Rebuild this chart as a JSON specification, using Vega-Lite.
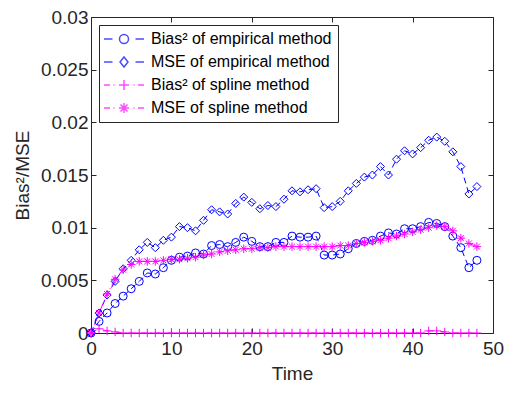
{
  "$schema": "https://vega.github.io/schema/vega-lite/v6.json",
  "width": 402,
  "height": 316,
  "autosize": "none",
  "padding": {"left": 91, "top": 17, "right": 14, "bottom": 62},
  "background": "white",
  "config": {
    "view": {"stroke": "#262626", "strokeWidth": 1},
    "font": "Liberation Sans",
    "scale": {"continuousPadding": 0},
    "axis": {
      "grid": false,
      "domain": false,
      "labelFlush": false,
      "tickColor": "#262626",
      "tickSize": -5,
      "labelColor": "#262626",
      "titleColor": "#262626",
      "labelFont": "Liberation Sans",
      "titleFont": "Liberation Sans",
      "labelFontSize": 19,
      "titleFontSize": 19,
      "titleFontWeight": "normal"
    },
    "legend": {
      "orient": "top-left",
      "offset": 8,
      "padding": 6,
      "strokeColor": "#262626",
      "fillColor": "white",
      "rowPadding": 7,
      "labelFont": "Liberation Sans",
      "labelFontSize": 16,
      "labelColor": "black",
      "labelLimit": 0,
      "labelOffset": 19,
      "symbolOffset": 11
    }
  },
  "data": {
    "values": [
      {"t": 0, "Bias² of empirical method": 0, "MSE of empirical method": 0, "Bias² of spline method": 0, "MSE of spline method": 0},
      {"t": 1, "Bias² of empirical method": 0.0011, "MSE of empirical method": 0.0019, "Bias² of spline method": 0.0004, "MSE of spline method": 0.0019},
      {"t": 2, "Bias² of empirical method": 0.0019, "MSE of empirical method": 0.0036, "Bias² of spline method": 0.0002, "MSE of spline method": 0.0037},
      {"t": 3, "Bias² of empirical method": 0.0028, "MSE of empirical method": 0.0049, "Bias² of spline method": 0.0001, "MSE of spline method": 0.0051},
      {"t": 4, "Bias² of empirical method": 0.0035, "MSE of empirical method": 0.0061, "Bias² of spline method": 0, "MSE of spline method": 0.0060},
      {"t": 5, "Bias² of empirical method": 0.0042, "MSE of empirical method": 0.0069, "Bias² of spline method": 0, "MSE of spline method": 0.0065},
      {"t": 6, "Bias² of empirical method": 0.0049, "MSE of empirical method": 0.0079, "Bias² of spline method": 0, "MSE of spline method": 0.0068},
      {"t": 7, "Bias² of empirical method": 0.0057, "MSE of empirical method": 0.0086, "Bias² of spline method": 0, "MSE of spline method": 0.0068},
      {"t": 8, "Bias² of empirical method": 0.0056, "MSE of empirical method": 0.0081, "Bias² of spline method": 0, "MSE of spline method": 0.0068},
      {"t": 9, "Bias² of empirical method": 0.0062, "MSE of empirical method": 0.0088, "Bias² of spline method": 0, "MSE of spline method": 0.0069},
      {"t": 10, "Bias² of empirical method": 0.0069, "MSE of empirical method": 0.0091, "Bias² of spline method": 0, "MSE of spline method": 0.0070},
      {"t": 11, "Bias² of empirical method": 0.0072, "MSE of empirical method": 0.0101, "Bias² of spline method": 0, "MSE of spline method": 0.0070},
      {"t": 12, "Bias² of empirical method": 0.0073, "MSE of empirical method": 0.0100, "Bias² of spline method": 0, "MSE of spline method": 0.0071},
      {"t": 13, "Bias² of empirical method": 0.0076, "MSE of empirical method": 0.0097, "Bias² of spline method": 0, "MSE of spline method": 0.0072},
      {"t": 14, "Bias² of empirical method": 0.0075, "MSE of empirical method": 0.0107, "Bias² of spline method": 0, "MSE of spline method": 0.0074},
      {"t": 15, "Bias² of empirical method": 0.0083, "MSE of empirical method": 0.0117, "Bias² of spline method": 0, "MSE of spline method": 0.0075},
      {"t": 16, "Bias² of empirical method": 0.0084, "MSE of empirical method": 0.0115, "Bias² of spline method": 0, "MSE of spline method": 0.0077},
      {"t": 17, "Bias² of empirical method": 0.0082, "MSE of empirical method": 0.0113, "Bias² of spline method": 0, "MSE of spline method": 0.0078},
      {"t": 18, "Bias² of empirical method": 0.0086, "MSE of empirical method": 0.0123, "Bias² of spline method": 0, "MSE of spline method": 0.0079},
      {"t": 19, "Bias² of empirical method": 0.0091, "MSE of empirical method": 0.0129, "Bias² of spline method": 0, "MSE of spline method": 0.0080},
      {"t": 20, "Bias² of empirical method": 0.0087, "MSE of empirical method": 0.0124, "Bias² of spline method": 0, "MSE of spline method": 0.0080},
      {"t": 21, "Bias² of empirical method": 0.0082, "MSE of empirical method": 0.0118, "Bias² of spline method": 0, "MSE of spline method": 0.0081},
      {"t": 22, "Bias² of empirical method": 0.0082, "MSE of empirical method": 0.0121, "Bias² of spline method": 0, "MSE of spline method": 0.0081},
      {"t": 23, "Bias² of empirical method": 0.0086, "MSE of empirical method": 0.0120, "Bias² of spline method": 0, "MSE of spline method": 0.0082},
      {"t": 24, "Bias² of empirical method": 0.0086, "MSE of empirical method": 0.0127, "Bias² of spline method": 0, "MSE of spline method": 0.0082},
      {"t": 25, "Bias² of empirical method": 0.0092, "MSE of empirical method": 0.0135, "Bias² of spline method": 0, "MSE of spline method": 0.0082},
      {"t": 26, "Bias² of empirical method": 0.0091, "MSE of empirical method": 0.0134, "Bias² of spline method": 0, "MSE of spline method": 0.0082},
      {"t": 27, "Bias² of empirical method": 0.0091, "MSE of empirical method": 0.0136, "Bias² of spline method": 0, "MSE of spline method": 0.0082},
      {"t": 28, "Bias² of empirical method": 0.0092, "MSE of empirical method": 0.0137, "Bias² of spline method": 0, "MSE of spline method": 0.0082},
      {"t": 29, "Bias² of empirical method": 0.0074, "MSE of empirical method": 0.0119, "Bias² of spline method": 0, "MSE of spline method": 0.0082},
      {"t": 30, "Bias² of empirical method": 0.0074, "MSE of empirical method": 0.0120, "Bias² of spline method": 0, "MSE of spline method": 0.0082},
      {"t": 31, "Bias² of empirical method": 0.0075, "MSE of empirical method": 0.0125, "Bias² of spline method": 0, "MSE of spline method": 0.0083},
      {"t": 32, "Bias² of empirical method": 0.0080, "MSE of empirical method": 0.0135, "Bias² of spline method": 0, "MSE of spline method": 0.0083},
      {"t": 33, "Bias² of empirical method": 0.0085, "MSE of empirical method": 0.0142, "Bias² of spline method": 0, "MSE of spline method": 0.0085},
      {"t": 34, "Bias² of empirical method": 0.0087, "MSE of empirical method": 0.0148, "Bias² of spline method": 0, "MSE of spline method": 0.0086},
      {"t": 35, "Bias² of empirical method": 0.0088, "MSE of empirical method": 0.0150, "Bias² of spline method": 0, "MSE of spline method": 0.0087},
      {"t": 36, "Bias² of empirical method": 0.0092, "MSE of empirical method": 0.0158, "Bias² of spline method": 0, "MSE of spline method": 0.0088},
      {"t": 37, "Bias² of empirical method": 0.0095, "MSE of empirical method": 0.0150, "Bias² of spline method": 0, "MSE of spline method": 0.0090},
      {"t": 38, "Bias² of empirical method": 0.0094, "MSE of empirical method": 0.0165, "Bias² of spline method": 0, "MSE of spline method": 0.0092},
      {"t": 39, "Bias² of empirical method": 0.0099, "MSE of empirical method": 0.0173, "Bias² of spline method": 0, "MSE of spline method": 0.0094},
      {"t": 40, "Bias² of empirical method": 0.0099, "MSE of empirical method": 0.0170, "Bias² of spline method": 0, "MSE of spline method": 0.0096},
      {"t": 41, "Bias² of empirical method": 0.0101, "MSE of empirical method": 0.0176, "Bias² of spline method": 0, "MSE of spline method": 0.0098},
      {"t": 42, "Bias² of empirical method": 0.0105, "MSE of empirical method": 0.0183, "Bias² of spline method": 0.0002, "MSE of spline method": 0.0100},
      {"t": 43, "Bias² of empirical method": 0.0104, "MSE of empirical method": 0.0186, "Bias² of spline method": 0.0002, "MSE of spline method": 0.0102},
      {"t": 44, "Bias² of empirical method": 0.0101, "MSE of empirical method": 0.0182, "Bias² of spline method": 0.0001, "MSE of spline method": 0.0101},
      {"t": 45, "Bias² of empirical method": 0.0092, "MSE of empirical method": 0.0172, "Bias² of spline method": 0, "MSE of spline method": 0.0097},
      {"t": 46, "Bias² of empirical method": 0.0081, "MSE of empirical method": 0.0158, "Bias² of spline method": 0, "MSE of spline method": 0.0090},
      {"t": 47, "Bias² of empirical method": 0.0062, "MSE of empirical method": 0.0132, "Bias² of spline method": 0, "MSE of spline method": 0.0085},
      {"t": 48, "Bias² of empirical method": 0.0069, "MSE of empirical method": 0.0139, "Bias² of spline method": 0, "MSE of spline method": 0.0082}
    ]
  },
  "transform": [
    {"fold": ["Bias² of empirical method", "MSE of empirical method", "Bias² of spline method", "MSE of spline method"], "as": ["series", "value"]}
  ],
  "resolve": {"axis": {"x": "independent", "y": "independent"}},
  "layer": [
    {
      "mark": {"type": "line", "strokeWidth": 1},
      "encoding": {
        "x": {"field": "t", "type": "quantitative", "scale": {"domain": [0, 50], "nice": false, "padding": 0},
              "axis": {"orient": "bottom", "values": [0, 10, 20, 30, 40, 50], "title": "Time", "labelPadding": 11, "titlePadding": 6}},
        "y": {"field": "value", "type": "quantitative", "scale": {"domain": [0, 0.03], "nice": false, "zero": false, "padding": 0},
              "axis": {"orient": "left", "values": [0, 0.005, 0.01, 0.015, 0.02, 0.025, 0.03], "format": "~g", "title": "Bias²/MSE", "labelPadding": 8, "titlePadding": 8}},
        "color": {"field": "series", "type": "nominal",
                  "scale": {"domain": ["Bias² of spline method", "MSE of spline method", "Bias² of empirical method", "MSE of empirical method"],
                            "range": ["#ff00ff", "#ff00ff", "#0000ff", "#0000ff"]},
                  "legend": null},
        "strokeDash": {"field": "series", "type": "nominal",
                       "scale": {"domain": ["Bias² of spline method", "MSE of spline method", "Bias² of empirical method", "MSE of empirical method"],
                                 "range": [[6, 3, 1, 3], [6, 3, 1, 3], [6, 4], [6, 4]]},
                       "legend": null}
      }
    },
    {
      "transform": [{"filter": {"field": "series", "equal": "Bias² of empirical method"}}],
      "mark": {"type": "point", "filled": false, "strokeWidth": 1, "size": 64, "shape": "circle", "opacity": 1},
      "encoding": {
        "x": {"field": "t", "type": "quantitative", "axis": null},
        "y": {"field": "value", "type": "quantitative", "axis": null},
        "color": {"field": "series", "type": "nominal", "legend": null}
      }
    },
    {
      "transform": [{"filter": {"field": "series", "equal": "MSE of empirical method"}}],
      "mark": {"type": "point", "filled": false, "strokeWidth": 1, "size": 64, "shape": "diamond", "opacity": 1},
      "encoding": {
        "x": {"field": "t", "type": "quantitative", "axis": null},
        "y": {"field": "value", "type": "quantitative", "axis": null},
        "color": {"field": "series", "type": "nominal", "legend": null}
      }
    },
    {
      "transform": [{"filter": {"field": "series", "equal": "Bias² of spline method"}}],
      "mark": {"type": "point", "filled": false, "strokeWidth": 1, "size": 72, "shape": "M-1,0H1M0,-1V1", "opacity": 1},
      "encoding": {
        "x": {"field": "t", "type": "quantitative", "axis": null},
        "y": {"field": "value", "type": "quantitative", "axis": null},
        "color": {"field": "series", "type": "nominal", "legend": null}
      }
    },
    {
      "transform": [{"filter": {"field": "series", "equal": "MSE of spline method"}}],
      "mark": {"type": "point", "filled": false, "strokeWidth": 1, "size": 72, "shape": "M-1,0H1M0,-1V1M-0.7,-0.7L0.7,0.7M-0.7,0.7L0.7,-0.7", "opacity": 1},
      "encoding": {
        "x": {"field": "t", "type": "quantitative", "axis": null},
        "y": {"field": "value", "type": "quantitative", "axis": null},
        "color": {"field": "series", "type": "nominal", "legend": null}
      }
    },
    {
      "transform": [{"filter": {"field": "t", "lt": 0}}],
      "mark": {"type": "point", "filled": false, "strokeWidth": 1, "size": 100},
      "encoding": {
        "x": {"field": "t", "type": "quantitative",
              "axis": {"orient": "top", "values": [0, 10, 20, 30, 40, 50], "labels": false, "title": null}},
        "y": {"field": "value", "type": "quantitative",
              "axis": {"orient": "right", "values": [0, 0.005, 0.01, 0.015, 0.02, 0.025, 0.03], "labels": false, "title": null}},
        "stroke": {"field": "series", "type": "nominal",
                   "scale": {"domain": ["Bias² of empirical method", "MSE of empirical method", "Bias² of spline method", "MSE of spline method"],
                             "range": ["#0000ff", "#0000ff", "#ff00ff", "#ff00ff"]},
                   "legend": {"title": null}},
        "shape": {"field": "series", "type": "nominal",
                  "scale": {"domain": ["Bias² of empirical method", "MSE of empirical method", "Bias² of spline method", "MSE of spline method"],
                            "range": ["M-4,0H-2.3M2.3,0H4M0.9,0A0.9,0.9,0,1,1,-0.9,0A0.9,0.9,0,1,1,0.9,0",
                                      "M-4,0H-2.3M2.3,0H4M0,-1L0.8,0L0,1L-0.8,0Z",
                                      "M-4,0H-2.8M-2.1,0H-1.9M1.9,0H2.1M2.8,0H4M-1,0H1M0,-1V1",
                                      "M-4,0H-2.8M-2.1,0H-1.9M1.9,0H2.1M2.8,0H4M-1,0H1M0,-1V1M-0.7,-0.7L0.7,0.7M-0.7,0.7L0.7,-0.7"]},
                  "legend": {"title": null}}
      }
    }
  ]
}
